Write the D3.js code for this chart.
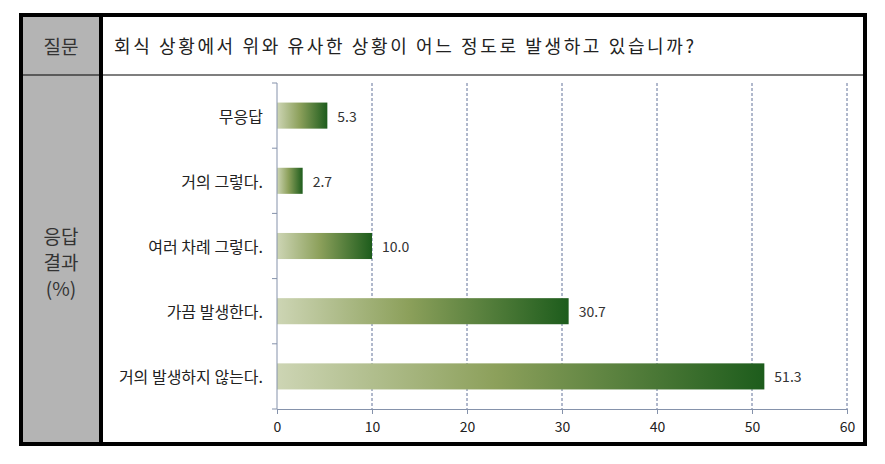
<!DOCTYPE html>
<html><head><meta charset="utf-8">
<script src="https://cdn.jsdelivr.net/npm/d3@7"></script>
<style>html,body{margin:0;padding:0;background:#fff;}svg{display:block;}</style>
</head><body>
<script>
const questionLabel = "질문";
const questionText = "회식 상황에서 위와 유사한 상황이 어느 정도로 발생하고 있습니까?";
const answerLabel = ["응답", "결과", "(%)"];
const categories = ["무응답", "거의 그렇다.", "여러 차례 그렇다.", "가끔 발생한다.", "거의 발생하지 않는다."];
const values = [5.3, 2.7, 10.0, 30.7, 51.3];
const xTicks = [0, 10, 20, 30, 40, 50, 60];

const W = 885, H = 464;
const svg = d3.select("body").append("svg").attr("width", W).attr("height", H);
const defs = svg.append("defs");
const grad = defs.append("linearGradient").attr("id", "barGrad").attr("x1", "0").attr("x2", "1").attr("y1", "0").attr("y2", "0");
grad.append("stop").attr("offset", "0%").attr("stop-color", "#cdd5b4");
grad.append("stop").attr("offset", "45%").attr("stop-color", "#8ca05b");
grad.append("stop").attr("offset", "100%").attr("stop-color", "#1d5c1c");

// table frame
const L = 21, T = 15, R = 865, B = 444, divX = 101, rowY = 75;
svg.append("rect").attr("x", L).attr("y", T).attr("width", divX - L).attr("height", B - T).attr("fill", "#b4b4b4");
svg.append("line").attr("x1", L).attr("x2", R).attr("y1", rowY).attr("y2", rowY).attr("stroke", "#000").attr("stroke-width", 1.2);
svg.append("line").attr("x1", divX).attr("x2", divX).attr("y1", T).attr("y2", B).attr("stroke", "#000").attr("stroke-width", 4);
svg.append("rect").attr("x", L).attr("y", T).attr("width", R - L).attr("height", B - T).attr("fill", "none").attr("stroke", "#000").attr("stroke-width", 4);

const serif = "'Noto Sans CJK KR', 'DejaVu Serif', serif";
svg.append("text").attr("x", (L + divX) / 2).attr("y", 45).attr("text-anchor", "middle").attr("dominant-baseline", "central")
  .attr("font-family", serif).attr("font-size", 19).attr("fill", "#333").text(questionLabel);
svg.append("text").attr("x", 114).attr("y", 45).attr("dominant-baseline", "central")
  .attr("font-family", serif).attr("font-size", 18).attr("fill", "#222")
  .attr("textLength", 580).attr("lengthAdjust", "spacing").text(questionText);
svg.append("g").selectAll("text").data(answerLabel).join("text")
  .attr("x", (L + divX) / 2).attr("y", (d, i) => 235 + i * 26).attr("text-anchor", "middle").attr("dominant-baseline", "central")
  .attr("font-family", serif).attr("font-size", 19).attr("fill", "#333").text(d => d);

// chart
const x0 = 277, x1 = 847, y0 = 83, y1 = 409;
const x = d3.scaleLinear().domain([0, 60]).range([x0, x1]);
const yBand = d3.scaleBand().domain(categories).range([y0, y1]).paddingInner(0.6).paddingOuter(0.3);
const yEdge = d3.scaleBand().domain(categories).range([y0, y1]).padding(0);
const sans = "'Noto Sans CJK KR', 'DejaVu Sans', sans-serif";
const axisCol = "#8592ab";

// gridlines
svg.append("g").selectAll("line").data(xTicks.filter(d => d > 0)).join("line")
  .attr("x1", d => x(d)).attr("x2", d => x(d)).attr("y1", y0).attr("y2", y1)
  .attr("stroke", "#63739a").attr("stroke-width", 1).attr("stroke-dasharray", "3,2");

// bars
svg.append("g").selectAll("rect").data(values).join("rect")
  .attr("x", x(0)).attr("y", (d, i) => yBand(categories[i]))
  .attr("width", d => x(d) - x(0)).attr("height", yBand.bandwidth())
  .attr("fill", "url(#barGrad)");

// value labels
svg.append("g").selectAll("text").data(values).join("text")
  .attr("x", d => x(d) + 10).attr("y", (d, i) => yBand(categories[i]) + yBand.bandwidth() / 2)
  .attr("dominant-baseline", "central").attr("font-family", sans).attr("font-size", 14).attr("fill", "#333")
  .text(d => d.toFixed(1));

// x axis
const xAxis = d3.axisBottom(x).tickValues(xTicks).tickSize(5).tickSizeOuter(0).tickPadding(8);
const gx = svg.append("g").attr("transform", `translate(0,${y1})`).call(xAxis);
gx.select(".domain").attr("stroke", axisCol);
gx.selectAll(".tick line").attr("stroke", axisCol);
gx.selectAll(".tick text").attr("font-family", sans).attr("font-size", 14).attr("fill", "#222");

// y axis
svg.append("line").attr("x1", x0).attr("x2", x0).attr("y1", y0).attr("y2", y1).attr("stroke", axisCol);
const edges = categories.map(c => yEdge(c)).concat([y1]);
svg.append("g").selectAll("line").data(edges).join("line")
  .attr("x1", x0 - 5).attr("x2", x0).attr("y1", d => d).attr("y2", d => d).attr("stroke", axisCol);
svg.append("g").selectAll("text").data(categories).join("text")
  .attr("x", x0 - 14).attr("y", d => yBand(d) + yBand.bandwidth() / 2)
  .attr("text-anchor", "end").attr("dominant-baseline", "central")
  .attr("font-family", sans).attr("font-size", 16).attr("fill", "#222").text(d => d);
</script>
</body></html>
